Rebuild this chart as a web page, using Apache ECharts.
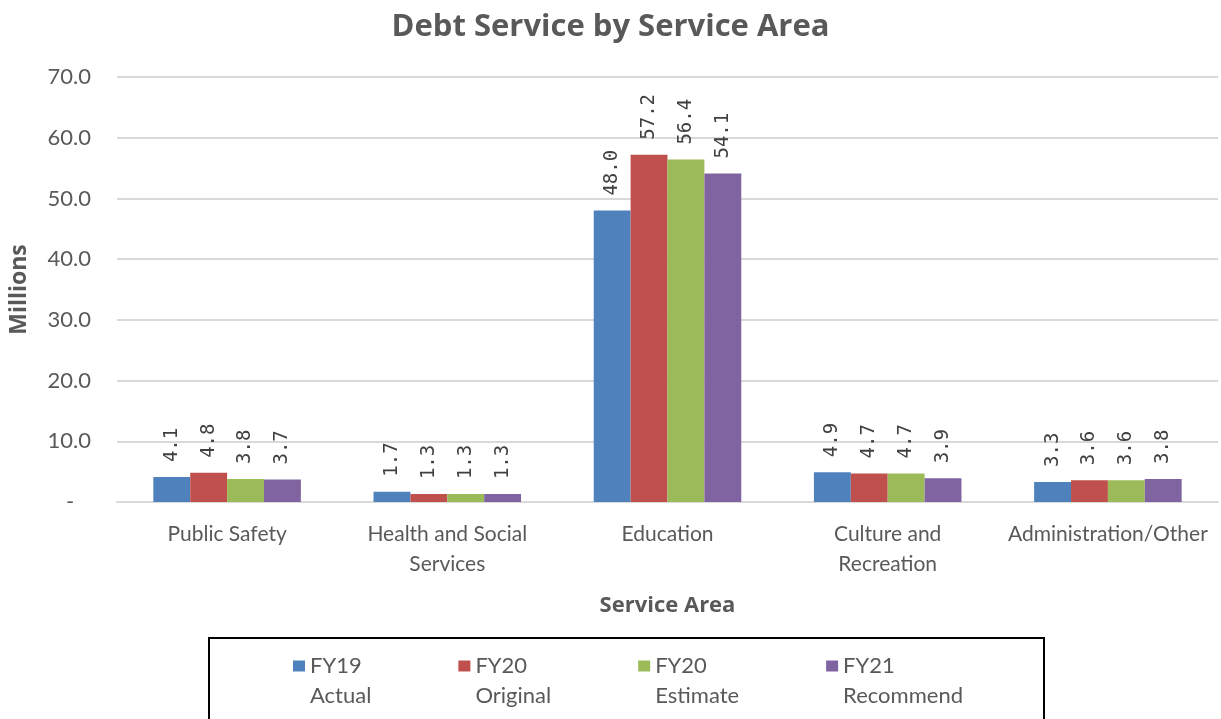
<!DOCTYPE html>
<html>
<head>
<meta charset="utf-8">
<script src="https://cdn.jsdelivr.net/npm/echarts@6/dist/echarts.min.js"></script>
<style>
  html, body { margin: 0; padding: 0; background: #fff; }
  #chart { width: 1221px; height: 719px; }
</style>
</head>
<body>
<div id="chart"></div>
<script>
// Service areas along the x axis
const categories = ['Public Safety', 'Health and Social\nServices', 'Education', 'Culture and\nRecreation', 'Administration/Other'];

// Debt service in millions, one array per budget column
const fy19Actual = [4.1, 1.7, 48.0, 4.9, 3.3];
const fy20Original = [4.8, 1.3, 57.2, 4.7, 3.6];
const fy20Estimate = [3.8, 1.3, 56.4, 4.7, 3.6];
const fy21Recommend = [3.7, 1.3, 54.1, 3.9, 3.8];

const seriesNames = ['FY19\nActual', 'FY20\nOriginal', 'FY20\nEstimate', 'FY21\nRecommend'];

// Value axis ticks
const yMin = 0, yMax = 70, yStep = 10;

const colors = ['#4F81BD', '#C0504D', '#9BBB59', '#8064A2'];
const values = [fy19Actual, fy20Original, fy20Estimate, fy21Recommend];
const textGrey = '#595959';
const uiFont = 'Lato, "Open Sans", sans-serif';
const headFont = '"Open Sans", Lato, sans-serif';

// legend entries: the swatch sits beside the first line of each two-line name
const legendLine = { fontFamily: uiFont, fontSize: 22, color: textGrey, lineHeight: 30 };

const chart = echarts.init(document.getElementById('chart'), null, { renderer: 'canvas' });

chart.setOption({
  backgroundColor: '#ffffff',
  animation: false,
  color: colors,
  title: {
    text: 'Debt Service by Service Area',
    left: 'center',
    top: 7,
    textStyle: { fontFamily: headFont, fontSize: 31, fontWeight: 'bold', color: textGrey }
  },
  grid: { left: 117, right: 3, top: 77, bottom: 217, outerBoundsMode: 'none', containLabel: false },
  xAxis: {
    type: 'category',
    data: categories,
    name: 'Service Area',
    nameLocation: 'middle',
    nameGap: 93,
    nameMoveOverlap: false,
    nameTextStyle: { fontFamily: headFont, fontSize: 22, fontWeight: 'bold', color: textGrey },
    axisLine: { lineStyle: { color: '#D9D9D9', width: 2 } },
    axisTick: { show: false },
    axisLabel: { fontFamily: uiFont, fontSize: 21, color: textGrey, margin: 17, lineHeight: 30, interval: 0 }
  },
  yAxis: {
    type: 'value',
    min: yMin,
    max: yMax,
    interval: yStep,
    name: 'Millions',
    nameLocation: 'middle',
    nameGap: 86,
    nameMoveOverlap: false,
    nameRotate: 90,
    nameTextStyle: { fontFamily: headFont, fontSize: 23, fontWeight: 'bold', color: textGrey },
    axisLine: { show: false },
    axisTick: { show: false },
    axisLabel: {
      fontFamily: uiFont, fontSize: 22, color: textGrey, margin: 26,
      formatter: v => (v === 0 ? '-   ' : v.toFixed(1))
    },
    splitLine: { lineStyle: { color: '#D9D9D9', width: 2 } }
  },
  legend: {
    left: 288,
    top: 616,
    itemWidth: 12,
    itemHeight: 11,
    itemGap: 87,
    icon: 'rect',
    data: seriesNames,
    formatter: name => {
      const parts = name.split('\n');
      return '{a|' + parts[0] + '}\n{b|' + parts[1] + '}';
    },
    textStyle: {
      fontFamily: uiFont,
      fontSize: 22,
      color: textGrey,
      lineHeight: 30,
      padding: [30, 0, 0, 0],
      rich: { a: legendLine, b: legendLine }
    }
  },
  graphic: [{
    type: 'rect',
    shape: { x: 209, y: 638, width: 835, height: 120 },
    style: { fill: 'none', stroke: '#000000', lineWidth: 2 },
    silent: true
  }],
  series: seriesNames.map((name, i) => ({
    name: name,
    type: 'bar',
    data: values[i],
    barGap: '0%',
    barCategoryGap: '33%',
    itemStyle: { color: colors[i] },
    label: {
      show: true,
      position: 'top',
      rotate: 90,
      align: 'left',
      verticalAlign: 'middle',
      distance: 15,
      fontFamily: '"DejaVu Sans Mono", monospace',
      fontSize: 19,
      color: '#404040',
      formatter: p => p.value.toFixed(1)
    }
  }))
});
</script>
</body>
</html>
